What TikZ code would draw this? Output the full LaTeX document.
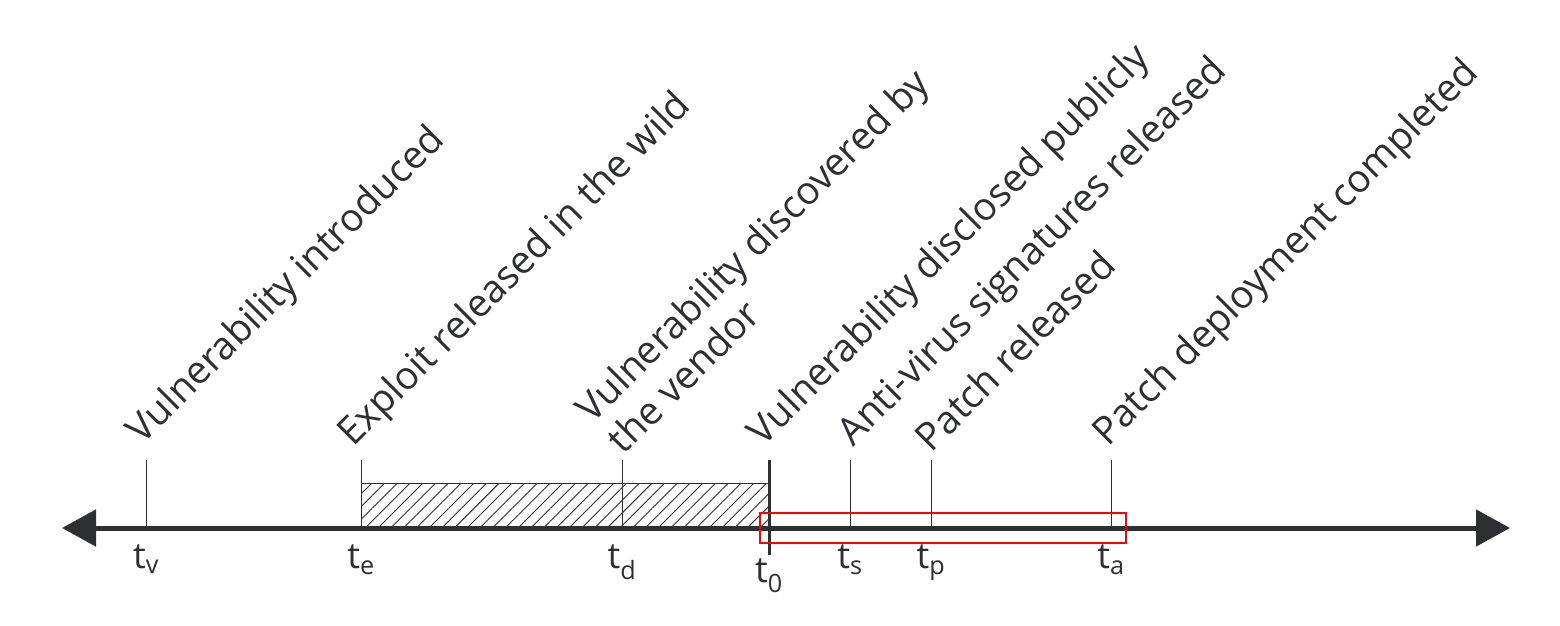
\documentclass[tikz,border=0pt]{standalone}
\usepackage{fontspec}
\setmainfont{Open Sans}
\usetikzlibrary{patterns.meta,arrows.meta}
\definecolor{ax}{HTML}{2D2F33}
\begin{document}
\begin{tikzpicture}[x=1pt,y=-1pt,
  lab/.style={rotate=45,anchor=south west,inner sep=0pt,font=\fontsize{38.5}{44}\selectfont,align=left,text=ax},
  tl/.style={font=\fontsize{36}{38}\selectfont,text=ax,inner sep=0pt,anchor=north},
  tick/.style={line width=1pt,ax}]
\useasboundingbox (0,0) rectangle (1560,626);
\fill[pattern={Lines[angle=45,distance=9pt,line width=0.9pt]},pattern color=ax] (361,483) rectangle (769,528);
\draw[tick] (361,483) rectangle (769,528);
\coordinate (L) at (62,528); \coordinate (R) at (1510,528);
\draw[ax,line width=5pt,{Triangle[length=34pt,width=36pt]}-{Triangle[length=34pt,width=36pt]}] (L) -- (R);
\foreach \n/\x in {v/146,e/361,d/622,s/850,p/931,a/1111}{
  \coordinate (k\n) at (\x,460); \coordinate (b\n) at (\x,528);
  \draw[tick] (k\n) -- (b\n);}
\coordinate (k0) at (769,460); \coordinate (b0) at (769,555);
\draw[ax,line width=3pt] (k0) -- (b0);
\draw[red,line width=2pt] (760,513) rectangle (1126,543);
\node[tl] (tv) at (146,545) {t\textsubscript{v}};
\node[tl] (te) at (361,545) {t\textsubscript{e}};
\node[tl] (td) at (622,545) {t\textsubscript{d}};
\node[tl] (t0) at (769,559) {t\textsubscript{0}};
\node[tl] (ts) at (850,545) {t\textsubscript{s}};
\node[tl] (tp) at (931,545) {t\textsubscript{p}};
\node[tl] (ta) at (1111,545) {t\textsubscript{a}};
\node[lab] (lv) at (149,452) {Vulnerability introduced};
\node[lab] (le) at (360,454) {Exploit released in the wild};
\node[lab] (ld) at (624,456) {Vulnerability discovered by\\the vendor};
\node[lab] (l0) at (770,454) {Vulnerability disclosed publicly};
\node[lab] (ls) at (860,454) {Anti-virus signatures released};
\node[lab] (lp) at (932,454) {Patch released};
\node[lab] (la) at (1115,454) {Patch deployment completed};
\end{tikzpicture}
\end{document}
